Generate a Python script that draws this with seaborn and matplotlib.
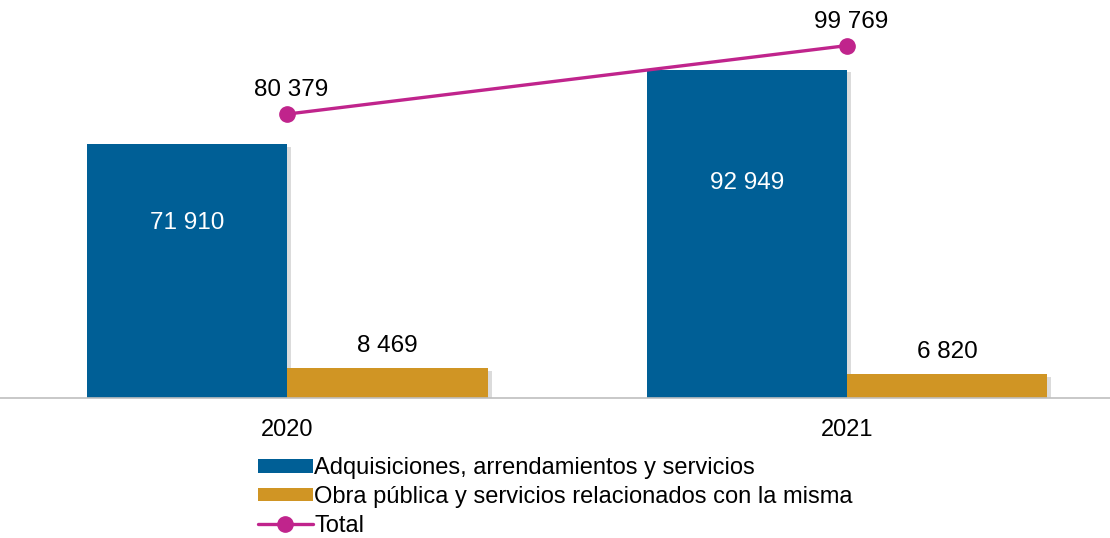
import pandas as pd
import matplotlib.pyplot as plt
import matplotlib.patheffects as pe
from matplotlib.lines import Line2D
from matplotlib.patches import Patch
import seaborn as sns

# Data
years = ["2020", "2021"]
adquisiciones = [71910, 92949]
obra_publica = [8469, 6820]
total = [80379, 99769]
series_names = ["Adquisiciones, arrendamientos y servicios",
                "Obra pública y servicios relacionados con la misma"]

BLUE = "#005F96"
GOLD = "#D09524"
MAGENTA = "#C0248C"

sns.set_theme(style="white")
plt.rcParams['font.family'] = ['Liberation Sans', 'DejaVu Sans']
plt.rcParams['text.color'] = 'black'


def fmt(v):
    return f"{v:,}".replace(",", " ")


df = pd.DataFrame({
    "year": years * 2,
    "serie": [series_names[0]] * 2 + [series_names[1]] * 2,
    "valor": adquisiciones + obra_publica,
})

fig = plt.figure(figsize=(11.1, 5.38), dpi=100)
ax = fig.add_axes([0, 0.2602, 1, 0.7398])

sns.barplot(data=df, x="year", y="valor", hue="serie", hue_order=series_names,
            palette=[BLUE, GOLD], width=0.716, saturation=1, ax=ax,
            legend=False, linewidth=0)

shadow = [pe.SimplePatchShadow(offset=(3, -2), alpha=0.25, shadow_rgbFace="#707070"),
          pe.Normal()]
for p in ax.patches:
    p.set_path_effects(shadow)

# Total line
ax.plot(range(len(years)), total, color=MAGENTA, lw=2.4, marker="o",
        markersize=11, zorder=5)

# Labels
offsets_in = [-79, -113]
for i, v in enumerate(adquisiciones):
    ax.annotate(fmt(v), (i - 0.179, v), xytext=(0, offsets_in[i] * 0.72),
                textcoords="offset points", ha="center", va="center",
                color="white", fontsize=17.5)
for i, v in enumerate(obra_publica):
    ax.annotate(fmt(v), (i + 0.179, v), xytext=(0, 16),
                textcoords="offset points", ha="center", va="center",
                color="black", fontsize=17.5)
for i, v in enumerate(total):
    ax.annotate(fmt(v), (i, v), xytext=(3, 17),
                textcoords="offset points", ha="center", va="center",
                color="black", fontsize=17.5)

ax.set_xlim(-0.513, 1.47)
ax.set_ylim(0, 112680)
ax.set_yticks([])
ax.set_xlabel("")
ax.set_ylabel("")
ax.tick_params(axis="x", length=0, pad=15, labelsize=17, colors="black")
for s in ["top", "left", "right"]:
    ax.spines[s].set_visible(False)
ax.spines["bottom"].set_color("#BFBFBF")
ax.spines["bottom"].set_linewidth(1.2)

handles = [
    Patch(facecolor=BLUE, edgecolor="none"),
    Patch(facecolor=GOLD, edgecolor="none"),
    Line2D([], [], color=MAGENTA, lw=2.4, marker="o", markersize=11),
]
fig.legend(handles, series_names + ["Total"], loc="upper left",
           bbox_to_anchor=(0.232, 0.150), frameon=False, fontsize=17,
           handlelength=2.35, handleheight=0.5, handletextpad=0.05,
           labelspacing=0.28, borderaxespad=0, borderpad=0,
           labelcolor="black")

fig.savefig("out.png", dpi=100)
